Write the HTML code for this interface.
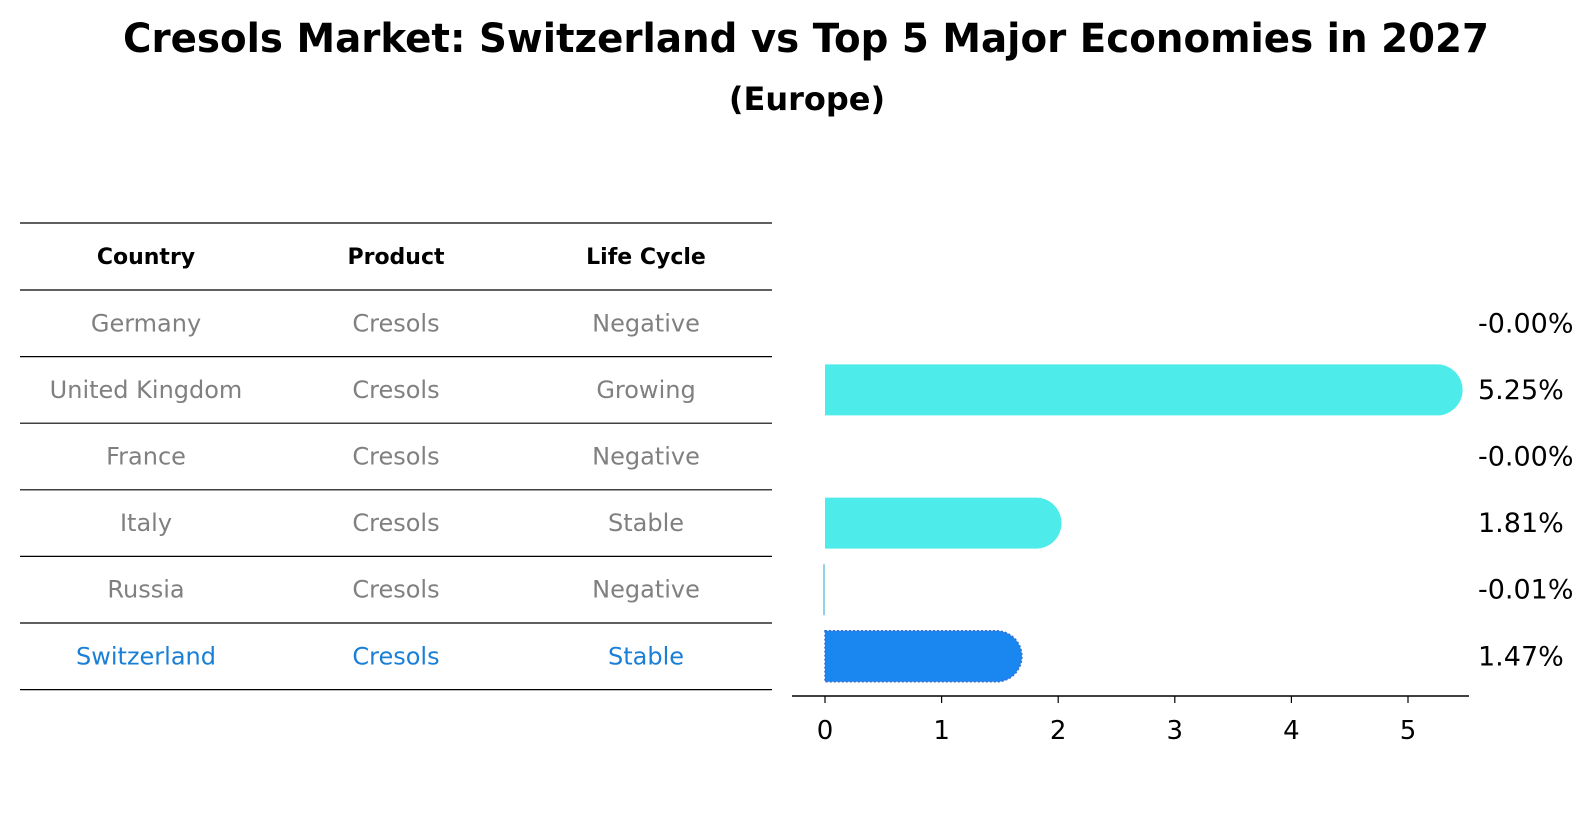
<!DOCTYPE html>
<html><head><meta charset="utf-8"><style>
html,body{margin:0;padding:0;background:#fff;}
svg{display:block;font-family:"DejaVu Sans","Liberation Sans",sans-serif;}
</style></head><body>
<svg id="chart" width="1596" height="823" viewBox="0 0 1596 823" xmlns="http://www.w3.org/2000/svg">
<text x="806" y="52" text-anchor="middle" font-size="40" font-weight="bold" textLength="1366" lengthAdjust="spacingAndGlyphs">Cresols Market: Switzerland vs Top 5 Major Economies in 2027</text>
<text x="807" y="110" text-anchor="middle" font-size="32" font-weight="bold">(Europe)</text>
<g id="table"></g>
<g id="bars"></g>
<g id="axis"></g>
</svg>
<script>
const countries = ["Germany","United Kingdom","France","Italy","Russia","Switzerland"];
const products = ["Cresols","Cresols","Cresols","Cresols","Cresols","Cresols"];
const lifeCycles = ["Negative","Growing","Negative","Stable","Negative","Stable"];
const growthValues = [-0.001, 5.25, -0.001, 1.81, -0.01, 1.47];
const valueLabels = ["-0.00%","5.25%","-0.00%","1.81%","-0.01%","1.47%"];
const xTicks = [0,1,2,3,4,5];

const NS = "http://www.w3.org/2000/svg";
function mk(tag, attrs, parent){const e=document.createElementNS(NS,tag);for(const k in attrs)e.setAttribute(k,attrs[k]);parent.appendChild(e);return e;}
const x0px=825, unit=116.6;
function xs(v){return x0px+v*unit;}
const rowTop=290, rowH=66.6;
function yc(i){return rowTop+rowH*(i+0.5);}

const table=document.getElementById('table');
const colX=[146,396,646];
const lineYs=[223];
for(let i=0;i<=countries.length;i++) lineYs.push(rowTop+rowH*i);
lineYs.forEach(function(y){
  const l=mk('line',{x1:20,x2:772,y1:y,y2:y,stroke:'#000','stroke-width':1.2},table);
  
  
});
["Country","Product","Life Cycle"].forEach(function(h,j){
  const t=mk('text',{x:colX[j],y:264,'text-anchor':'middle','font-size':22,'font-weight':'bold'},table);
  t.textContent=h;
  
  
});
countries.forEach(function(c,i){
  const col = c==="Switzerland" ? '#1a7fd6' : '#808080';
  [c,products[i],lifeCycles[i]].forEach(function(v,j){
    const t=mk('text',{x:colX[j],y:yc(i)+8,'text-anchor':'middle','font-size':24,fill:col},table);
    t.textContent=v;
    
    
  });
});

const bars=document.getElementById('bars');
const bh=51, r=bh/2;
growthValues.forEach(function(v,i){
  const y=yc(i), isCH=countries[i]==="Switzerland";
  if(Math.abs(v)*unit>=2){
    const xe=xs(v);
    const d='M'+x0px+','+(y-r)+' H'+xe+' A'+r+','+r+' 0 0 1 '+xe+','+(y+r)+' H'+x0px+' Z';
    const p=mk('path',{d:d,fill:isCH?'#1a86f0':'#4decea'},bars);
    if(isCH){p.setAttribute('stroke','#3a6fd0');p.setAttribute('stroke-dasharray','2,2');p.setAttribute('stroke-width','1.5');}
    
    
  } else if(v<=-0.005){
    const ln=mk('line',{x1:xs(0)-1,x2:xs(0)-1,y1:y-r,y2:y+r,stroke:'#8fd3ea','stroke-width':2},bars);
    
    
  }
  const t=mk('text',{x:1478,y:y+9,'font-size':27},bars);
  t.textContent=valueLabels[i];
  
  
});

const axis=document.getElementById('axis');
const al=mk('line',{x1:792,x2:1469,y1:696,y2:696,stroke:'#000','stroke-width':1.5},axis);


xTicks.forEach(function(v){
  const tk=mk('line',{x1:xs(v),x2:xs(v),y1:696,y2:703,stroke:'#000','stroke-width':1.2},axis);
  
  
  const t=mk('text',{x:xs(v),y:739,'text-anchor':'middle','font-size':26},axis);
  t.textContent=String(v);
  
  
});
</script>
</body></html>
